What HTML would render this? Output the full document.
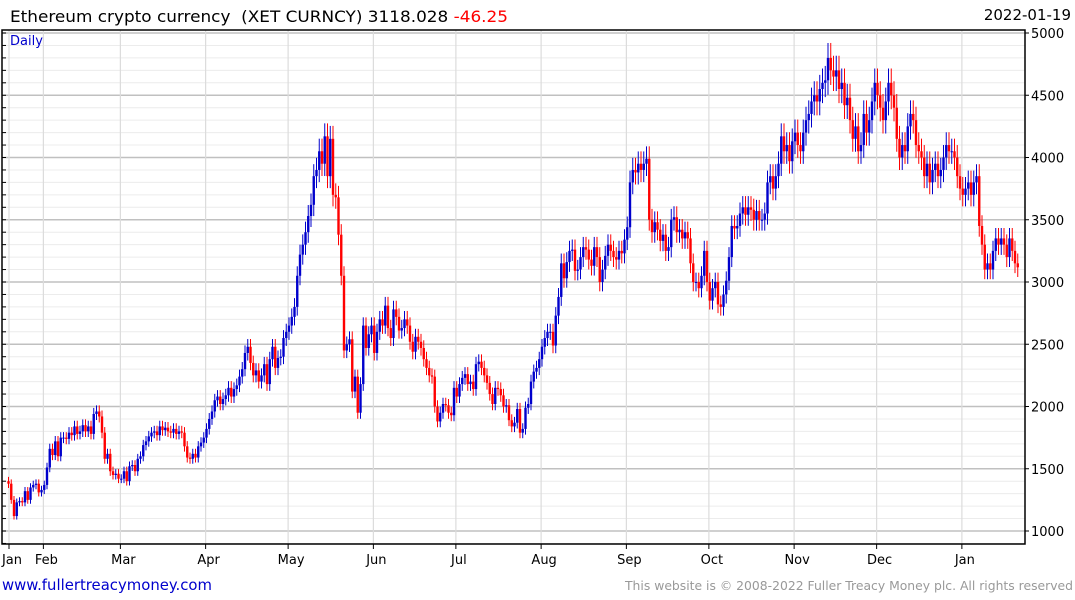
<!DOCTYPE html>
<html><head><meta charset="utf-8"><style>
body{margin:0;background:#fff;width:1075px;height:600px;overflow:hidden}
svg{display:block;font-family:"DejaVu Sans","Liberation Sans",sans-serif}
</style></head><body>
<svg id="chart" width="1075" height="600">
<g id="grid"></g>
<g id="bars"></g>
<g id="axes"></g>
<text x="10" y="22" font-size="16" textLength="498" lengthAdjust="spacingAndGlyphs">Ethereum crypto currency&#160; (XET CURNCY) 3118.028 <tspan fill="#ff0000">-46.25</tspan></text>
<text x="1071" y="20" font-size="15" text-anchor="end">2022-01-19</text>
<text x="10" y="45" font-size="13" fill="#0000cc">Daily</text>
<text x="2" y="590" font-size="15" fill="#0000cc" textLength="210" lengthAdjust="spacingAndGlyphs">www.fullertreacymoney.com</text>
<text x="1073" y="590" font-size="12" fill="#999" text-anchor="end" textLength="448" lengthAdjust="spacingAndGlyphs">This website is © 2008-2022 Fuller Treacy Money plc. All rights reserved</text>
</svg>
<script>
const closes = [
1380,1250,1120,1230,1240,1230,1320,1250,1350,1370,1380,1310,1330,
1370,1510,1660,1610,1720,1600,1750,1750,1740,1790,1770,1840,1780,1800,1850,1800,1840,1780,1940,1960,1920,1790,1580,1620,1480,1450,1460,1420,
1420,1480,1400,1520,1530,1480,1580,1600,1690,1720,1760,1790,1800,1770,1840,1810,1830,1800,1790,1820,1780,1800,1790,1680,1590,1580,1620,1590,1680,1710,1750,
1820,1900,1960,2050,2080,2020,2060,2090,2150,2080,2140,2170,2240,2300,2430,2480,2350,2250,2290,2200,2250,2340,2180,2380,2480,2310,2390,2400,2550,2600,
2650,2720,2800,3050,3220,3300,3400,3530,3620,3850,3900,4050,3950,4170,3850,4150,3700,3680,3380,3050,2450,2500,2540,2120,2240,1950,2180,2650,2470,2580,2650,
2430,2600,2700,2650,2810,2630,2550,2780,2720,2610,2630,2700,2650,2520,2440,2560,2520,2470,2380,2310,2250,2240,2000,1880,1950,2020,2010,1950,1930,2150,
2080,2180,2230,2260,2180,2200,2140,2340,2360,2310,2250,2190,2100,2020,2150,2140,2090,2000,2010,1890,1840,1870,1980,1790,1820,1990,2020,2200,2280,2310,2380,
2480,2550,2600,2600,2490,2730,2880,3150,3030,3160,3250,3260,3090,3100,3200,3280,3260,3180,3130,3280,3200,3000,3100,3210,3300,3250,3200,3180,3250,3230,3340,
3440,3800,3900,3880,3950,3900,3950,3990,3500,3400,3480,3420,3330,3380,3250,3280,3500,3520,3400,3420,3350,3400,3350,3150,3000,3000,2950,3050,3250,3000,
2850,2950,3000,2820,2800,2900,3010,3200,3450,3430,3450,3550,3600,3540,3600,3580,3500,3570,3500,3500,3550,3800,3850,3750,3850,3950,4170,4050,4100,3970,4130,
4200,4100,4050,4200,4300,4350,4450,4500,4450,4550,4600,4620,4800,4700,4650,4700,4550,4600,4420,4480,4300,4150,4250,4050,4100,4350,4200,4300,4450,4600,
4500,4400,4300,4450,4600,4500,4400,4150,4000,4100,4050,4250,4350,4300,4100,4050,4000,3850,3950,3800,3900,3950,3850,3900,4000,4100,4050,4050,4000,3850,3750,
3700,3750,3800,3700,3800,3850,3450,3300,3100,3150,3100,3250,3350,3300,3350,3300,3200,3350,3250,3150,3118
];
const firstOpen = 1400;
const yTicks = [1000,1500,2000,2500,3000,3500,4000,4500,5000];
const monthLabels = ["Jan","Feb","Mar","Apr","May","Jun","Jul","Aug","Sep","Oct","Nov","Dec","Jan"];
const monthStartIdx = [0.5,13,41,72,102,133,163,194,225,255,286,316,347];

const NS="http://www.w3.org/2000/svg";
const L=2,R=1025,T=30,B=544;
const y=v=>33+(5000-v)*0.1245;
const x=i=>8.5+i*2.75;
function mk(tag,attrs,parent){const e=document.createElementNS(NS,tag);for(const k in attrs)e.setAttribute(k,attrs[k]);parent.appendChild(e);return e;}
const grid=document.getElementById('grid'),bars=document.getElementById('bars'),axes=document.getElementById('axes');
for(let v=900;v<=5100;v+=100){const yy=y(v);if(yy<T||yy>B)continue;
 const major=v%500===0;
 const ln=mk('line',{x1:L,x2:R,y1:yy,y2:yy,stroke:major?'#c0c0c0':'#ececec','stroke-width':major?1.5:1},grid);
 
 
 const tk=mk('line',{x1:L,x2:L+4,y1:yy,y2:yy,stroke:'#000','stroke-width':1},axes);
 
 
}
monthStartIdx.forEach((mi,k)=>{const xx=x(mi-0.5)+0.5;
 const g=mk('line',{x1:xx,x2:xx,y1:T,y2:B,stroke:'#dcdcdc','stroke-width':1.2},grid);
 
 
 const t=mk('line',{x1:xx,x2:xx,y1:B,y2:B+5,stroke:'#000'},axes);
 
 
 const lb=mk('text',{x:xx+3,y:564,'font-size':13,'text-anchor':'middle'},axes);lb.textContent=monthLabels[k];
 
 
});
yTicks.forEach(v=>{const yy=y(v);
 const t=mk('line',{x1:R,x2:R+4,y1:yy,y2:yy,stroke:'#000'},axes);
 
 
 const lb=mk('text',{x:R+6,y:yy+5,'font-size':13},axes);lb.textContent=v;
 
 
});
const fr=mk('rect',{x:L,y:T,width:R-L,height:B-T,fill:'none',stroke:'#000','stroke-width':1.5},axes);


closes.forEach((c,i)=>{const o=i===0?firstOpen:closes[i-1];
 const up=c>=o,col=up?'#0000cc':'#ff0000';
 const hi=Math.max(o,c)*1.025,lo=Math.min(o,c)*0.975,xx=x(i);
 const w=mk('line',{x1:xx,x2:xx,y1:y(hi),y2:y(lo),stroke:col,'stroke-width':1},bars);
 
 
 const top=y(Math.max(o,c)),h=Math.max(1,y(Math.min(o,c))-top);
 const b=mk('rect',{x:xx-1.2,y:top,width:2.4,height:h,fill:col},bars);
 
 
});
</script>
</body></html>
